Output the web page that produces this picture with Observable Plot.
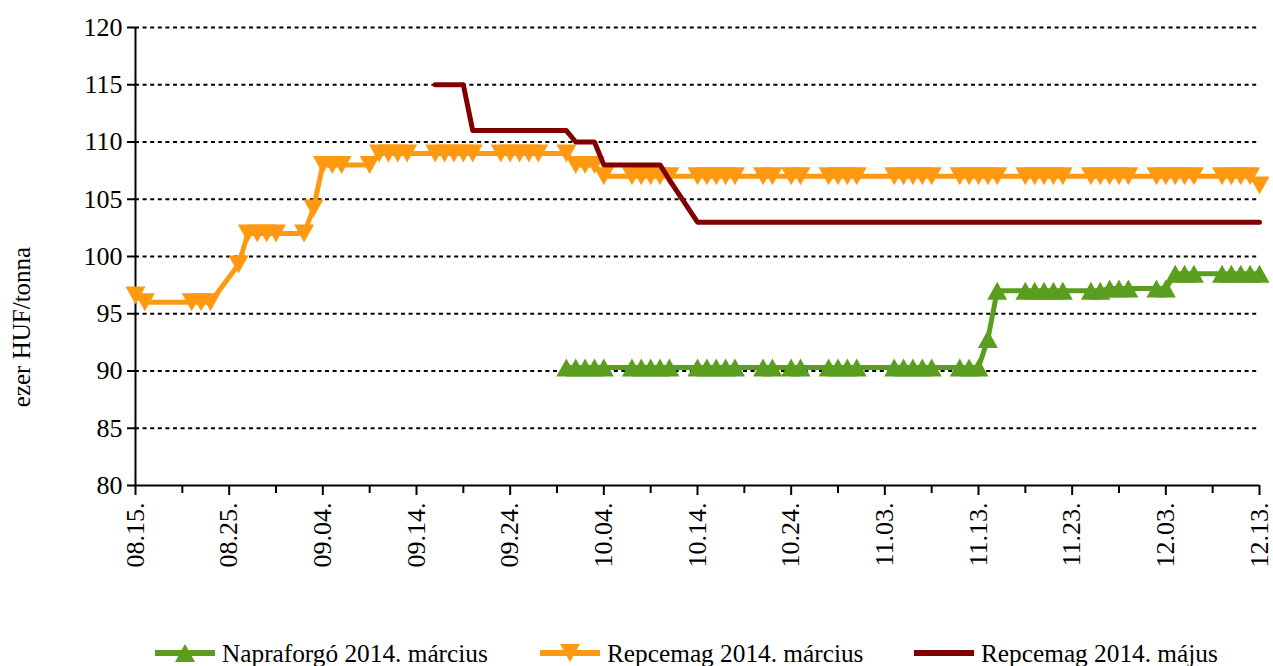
<!DOCTYPE html>
<html>
<head>
<meta charset="utf-8">
<script src="https://cdn.jsdelivr.net/npm/d3@7"></script>
<script src="https://cdn.jsdelivr.net/npm/@observablehq/plot@0.6"></script>
<style>
  html, body { margin: 0; padding: 0; background: #fff; overflow: hidden; }
  #wrap { width: 1273px; height: 666px; position: relative; overflow: hidden; font-family: "Liberation Serif", "Times New Roman", serif; }
  #legend { position: absolute; left: 0; top: 630px; width: 1273px; height: 46px; }
  .item { position: absolute; top: 0; height: 46px; display: flex; align-items: center; font-size: 25.3px; color: #000; white-space: nowrap; }
  .item svg { margin-right: 7px; }
</style>
</head>
<body>
<div id="wrap"><div id="chart"></div><div id="legend"></div></div>
<script>
// ---- data (2013 trading days) ----
const days = [
  "08-15","08-16","08-21","08-22","08-23","08-26","08-27","08-28","08-29","08-30",
  "09-02","09-03","09-04","09-05","09-06","09-09","09-10","09-11","09-12","09-13",
  "09-16","09-17","09-18","09-19","09-20","09-23","09-24","09-25","09-26","09-27",
  "09-30","10-01","10-02","10-03","10-04","10-07","10-08","10-09","10-10","10-11",
  "10-14","10-15","10-16","10-17","10-18","10-21","10-22","10-24","10-25",
  "10-28","10-29","10-30","10-31","11-04","11-05","11-06","11-07","11-08",
  "11-11","11-12","11-13","11-14","11-15","11-18","11-19","11-20","11-21","11-22",
  "11-25","11-26","11-27","11-28","11-29","12-02","12-03","12-04","12-05","12-06",
  "12-09","12-10","12-11","12-12","12-13"
];
const seriesNames = ["Napraforgó 2014. március", "Repcemag 2014. március", "Repcemag 2014. május"];
const seriesColors = ["#5b9e1f", "#ff9912", "#800000"];

const napraforgoMarc = [
  null,null,null,null,null,null,null,null,null,null,
  null,null,null,null,null,null,null,null,null,null,
  null,null,null,null,null,null,null,null,null,null,
  90.3,90.3,90.3,90.3,90.3,90.3,90.3,90.3,90.3,90.3,
  90.3,90.3,90.3,90.3,90.3,90.3,90.3,90.3,90.3,
  90.3,90.3,90.3,90.3,90.3,90.3,90.3,90.3,90.3,
  90.3,90.3,90.3,92.8,97.0,97.0,97.0,97.0,97.0,97.0,
  97.0,97.0,97.2,97.2,97.2,97.2,97.2,98.5,98.5,98.5,
  98.5,98.5,98.5,98.5,98.5
];
const repcemagMarc = [
  96.6,96,96,96,96,99.3,102,102,102,102,
  102,104.2,108,108,108,108,109,109,109,109,
  109,109,109,109,109,109,109,109,109,109,
  109,108,108,108,107,107,107,107,107,107,
  107,107,107,107,107,107,107,107,107,
  107,107,107,107,107,107,107,107,107,
  107,107,107,107,107,107,107,107,107,107,
  107,107,107,107,107,107,107,107,107,107,
  107,107,107,107,106.2
];
const repcemagMaj = [
  null,null,null,null,null,null,null,null,null,null,
  null,null,null,null,null,null,null,null,null,null,
  115,115,115,115,111,111,111,111,111,111,
  111,110,110,110,108,108,108,108,108,106.7,
  103,103,103,103,103,103,103,103,103,
  103,103,103,103,103,103,103,103,103,
  103,103,103,103,103,103,103,103,103,103,
  103,103,103,103,103,103,103,103,103,103,
  103,103,103,103,103
];
const xTickDays = ["08-15","08-25","09-04","09-14","09-24","10-04","10-14","10-24","11-03","11-13","11-23","12-03","12-13"];
const yTicks = [80,85,90,95,100,105,110,115,120];
const yLabel = "ezer HUF/tonna";

// ---- build ----
const parse = s => new Date(Date.UTC(2013, +s.slice(0,2) - 1, +s.slice(3,5)));
const rows = days.map((d, i) => ({date: parse(d), g: napraforgoMarc[i], o: repcemagMarc[i], r: repcemagMaj[i]}));
const majorTicks = xTickDays.map(parse);
const minorTicks = majorTicks.slice(0, -1).map(d => d3.utcDay.offset(d, 5));
const fmt = d3.utcFormat("%m.%d.");

const triUp = {draw(ctx) { ctx.moveTo(0, -9); ctx.lineTo(10, 9); ctx.lineTo(-10, 9); ctx.closePath(); }};
const triDown = {draw(ctx) { ctx.moveTo(0, 9); ctx.lineTo(10, -9); ctx.lineTo(-10, -9); ctx.closePath(); }};

const chart = Plot.plot({
  width: 1273, height: 620,
  marginLeft: 135, marginRight: 14, marginTop: 27, marginBottom: 135,
  style: {fontFamily: "Liberation Serif", background: "white", color: "black", overflow: "visible"},
  x: {type: "utc", domain: [majorTicks[0], majorTicks[majorTicks.length - 1]]},
  y: {domain: [80, 120]},
  marks: [
    Plot.ruleY(yTicks.slice(1), {stroke: "black", strokeWidth: 2, strokeDasharray: "4,3.6"}),
    Plot.axisY({ticks: yTicks, tickSize: 8, tickPadding: 5, fontSize: 26, strokeWidth: 2, label: null}),
    Plot.axisX({ticks: majorTicks, tickFormat: fmt, tickRotate: -90, tickSize: 10, tickPadding: 7, fontSize: 26, strokeWidth: 2, label: null}),
    Plot.axisX({ticks: minorTicks, tickFormat: () => "", tickSize: 8, strokeWidth: 2, label: null}),
    Plot.ruleY([80], {stroke: "black", strokeWidth: 2}),
    Plot.ruleX([majorTicks[0]], {y1: 80, y2: 120, stroke: "black", strokeWidth: 2}),
    Plot.line(rows, {x: "date", y: "g", stroke: seriesColors[0], strokeWidth: 5, strokeLinejoin: "round"}),
    Plot.dot(rows, {x: "date", y: "g", symbol: triUp, fill: seriesColors[0], r: 10}),
    Plot.line(rows, {x: "date", y: "o", stroke: seriesColors[1], strokeWidth: 5, strokeLinejoin: "round"}),
    Plot.dot(rows, {x: "date", y: "o", symbol: triDown, fill: seriesColors[1], r: 10}),
    Plot.line(rows, {x: "date", y: "r", stroke: seriesColors[2], strokeWidth: 5, strokeLinejoin: "round"})
  ]
});
document.getElementById("chart").appendChild(chart);

d3.select(chart).append("text")
  .attr("transform", "translate(30,327) rotate(-90)")
  .attr("text-anchor", "middle")
  .attr("font-size", 25)
  .attr("font-family", "Liberation Serif")
  .attr("fill", "black")
  .text(yLabel);

// ---- legend ----
const legendLeft = [155, 540, 914];
const legend = d3.select("#legend");
seriesNames.forEach((name, i) => {
  const it = legend.append("div").attr("class", "item").style("left", legendLeft[i] + "px");
  const sw = it.append("svg").attr("width", 60).attr("height", 24);
  sw.append("line").attr("x1", 0).attr("x2", 60).attr("y1", 12).attr("y2", 12)
    .attr("stroke", seriesColors[i]).attr("stroke-width", 6);
  if (i === 0) sw.append("path").attr("d", "M30,3L40,21L20,21Z").attr("fill", seriesColors[i]);
  if (i === 1) sw.append("path").attr("d", "M30,21L40,3L20,3Z").attr("fill", seriesColors[i]);
  it.append("span").text(name);
});
</script>
</body>
</html>
